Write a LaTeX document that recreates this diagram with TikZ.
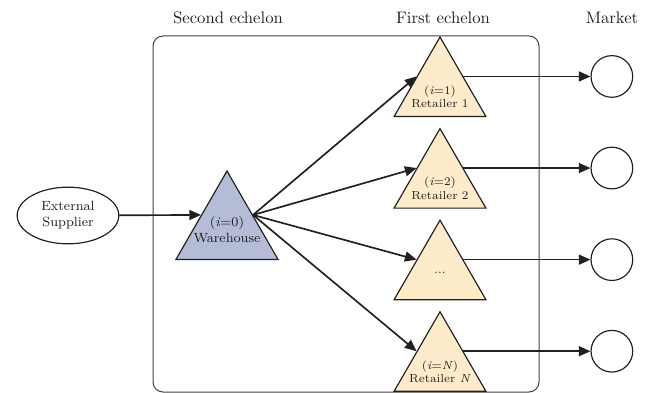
\documentclass[tikz,border=0pt]{standalone}
\usetikzlibrary{positioning, shapes.geometric, arrows.meta}
\usepackage{xcolor}
\definecolor{whblue}{HTML}{B4BCD6}
\definecolor{rtcream}{HTML}{FDEBC9}
\definecolor{edgegray}{HTML}{231F20}

\begin{document}
\begin{tikzpicture}[x=0.6pt, y=-0.6pt,
    ttl/.style={font=\normalsize, text=edgegray},
    sup/.style={ellipse, draw=edgegray, line width=0.7pt, minimum width=61pt, minimum height=34pt, font=\footnotesize, align=center, inner sep=1pt, text=edgegray},
    wh/.style={regular polygon, regular polygon sides=3, draw=edgegray, fill=whblue, line width=0.7pt, minimum size=70.8pt, inner sep=0pt},
    rt/.style={regular polygon, regular polygon sides=3, draw=edgegray, fill=rtcream, line width=0.7pt, minimum size=63.6pt, inner sep=0pt},
    mk/.style={circle, draw=edgegray, line width=0.7pt, minimum size=25pt, inner sep=0pt},
    flow/.style={-{Triangle[length=7pt,width=6pt]}, line width=1pt, color=edgegray}]
  \useasboundingbox (0,0) rectangle (653,393);
  \draw[rounded corners=6pt, line width=0.6pt, color=edgegray!85] (153,36) rectangle (539,392);
  \node[ttl] (t2) at (228,18) {Second echelon};
  \node[ttl] (t1) at (443,18) {First echelon};
  \node[ttl] (tm) at (612,18) {Market};
  \node[sup] (es) at (68,215.5) {External\\Supplier};
  \node[wh, label={[font=\footnotesize, align=center, text=edgegray]center:{(\textit{i}=0)\\Warehouse}}] (w) at (227,230) {};
  \node[rt, label={[font=\scriptsize, align=center, text=edgegray, yshift=-4pt]center:{(\textit{i}=1)\\Retailer 1}}] (r1) at (440,90) {};
  \node[rt, below=6.2pt of r1, label={[font=\scriptsize, align=center, text=edgegray, yshift=-4pt]center:{(\textit{i}=2)\\Retailer 2}}] (r2) {};
  \node[rt, below=6.2pt of r2, label={[font=\scriptsize, text=edgegray]center:{...}}] (r3) {};
  \node[rt, below=6.2pt of r3, label={[font=\scriptsize, align=center, text=edgegray, yshift=-4pt]center:{(\textit{i}=\textit{N})\\Retailer \textit{N}}}] (rn) {};
  \node[mk, right=76.2pt of r1.side 3] (m1) {};
  \node[mk, right=76.2pt of r2.side 3] (m2) {};
  \node[mk, right=76.2pt of r3.side 3] (m3) {};
  \node[mk, right=76.2pt of rn.side 3] (mn) {};
  \draw[flow] (es) -- (w.side 1);
  \draw[flow] (w.side 3) -- (r1.side 1); \draw[flow] (w.side 3) -- (r2.side 1);
  \draw[flow] (w.side 3) -- (r3.side 1); \draw[flow] (w.side 3) -- (rn.side 1);
  \draw[flow] (r1.side 3) -- (m1); \draw[flow] (r2.side 3) -- (m2);
  \draw[flow] (r3.side 3) -- (m3); \draw[flow] (rn.side 3) -- (mn);
\end{tikzpicture}
\end{document}
